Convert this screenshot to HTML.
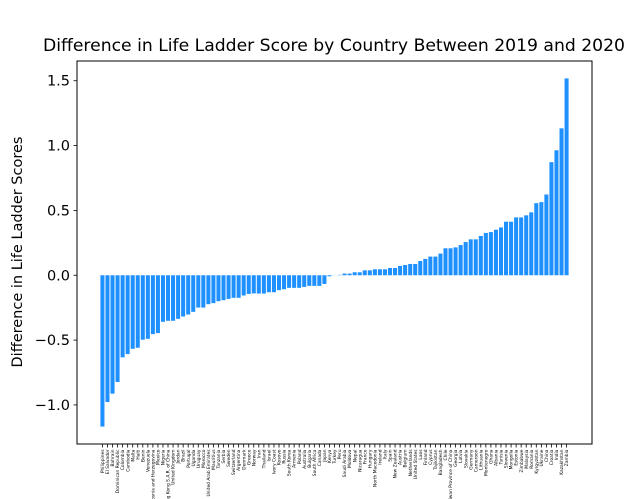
<!DOCTYPE html>
<html><head><meta charset="utf-8"><style>
body{margin:0;background:#fff;}
svg{display:block;font-family:"DejaVu Sans","Liberation Sans",sans-serif;}
</style></head><body>
<svg id="chart" width="632" height="499" viewBox="0 0 632 499" xmlns="http://www.w3.org/2000/svg">
<rect width="632" height="499" fill="#fff"/>
<text x="334" y="51" font-size="17.2" text-anchor="middle" fill="#000">Difference in Life Ladder Score by Country Between 2019 and 2020</text>
<text transform="translate(22,252) rotate(-90)" font-size="14.5" text-anchor="middle" fill="#000">Difference in Life Ladder Scores</text>
<g id="bars"></g>
<g id="yticks"></g>
<g id="xticks"></g>
<rect x="77" y="61" width="515" height="383" fill="none" stroke="#000" stroke-width="1"/>
</svg>
<script>
const countries = ["Philippines","El Salvador","Bahrain","Dominican Republic","Colombia","Cambodia","Malta","Haiti","Benin","Venezuela","Bosnia and Herzegovina","Mexico","Nigeria","Hong Kong S.A.R. of China","United Kingdom","Jordan","Brazil","Portugal","Uganda","Uruguay","Morocco","United Arab Emirates","Mauritius","Tanzania","Serbia","Sweden","Switzerland","Argentina","Denmark","Greece","Norway","Iran","Thailand","Israel","Ivory Coast","Kosovo","Russia","South Korea","Armenia","Poland","Australia","Bulgaria","South Africa","Canada","Japan","Kenya","Turkey","Peru","Saudi Arabia","Moldova","Nepal","Nicaragua","France","Hungary","North Macedonia","Ireland","Italy","Spain","New Zealand","Austria","Belgium","Netherlands","United States","Laos","Finland","Cyprus","Tajikistan","Bangladesh","Chile","Taiwan Province of China","Georgia","Latvia","Slovakia","Germany","Cameroon","Lithuania","Montenegro","Ghana","Albania","Tunisia","Slovenia","Mongolia","Estonia","Zimbabwe","Malaysia","Romania","Kyrgyzstan","Ukraine","China","Croatia","India","Kazakhstan","Zambia"];
const values = [-1.167,-0.977,-0.913,-0.823,-0.633,-0.608,-0.567,-0.559,-0.497,-0.490,-0.454,-0.446,-0.359,-0.351,-0.351,-0.336,-0.318,-0.303,-0.282,-0.249,-0.249,-0.223,-0.215,-0.200,-0.192,-0.182,-0.174,-0.174,-0.156,-0.144,-0.140,-0.141,-0.141,-0.131,-0.131,-0.115,-0.108,-0.097,-0.097,-0.097,-0.090,-0.082,-0.082,-0.082,-0.067,-0.008,0.001,0.003,0.013,0.013,0.023,0.023,0.038,0.038,0.046,0.046,0.046,0.056,0.056,0.072,0.079,0.087,0.087,0.110,0.126,0.144,0.144,0.167,0.208,0.208,0.215,0.233,0.256,0.277,0.277,0.303,0.326,0.333,0.351,0.369,0.413,0.413,0.446,0.446,0.462,0.485,0.556,0.564,0.623,0.872,0.964,1.133,1.518];
const yTickValues = [-1.0,-0.5,0.0,0.5,1.0,1.5];
const yTickLabels = ["\u22121.0","\u22120.5","0.0","0.5","1.0","1.5"];

const NS="http://www.w3.org/2000/svg";
const L=77,R=592,T=61,B=444;
const n=values.length;
const xmin=-0.4-0.05*(n-1+0.8), xmax=n-1+0.4+0.05*(n-1+0.8);
const vmin=Math.min(0,...values), vmax=Math.max(0,...values);
const ymin=vmin-0.05*(vmax-vmin), ymax=vmax+0.05*(vmax-vmin);
function xScale(v){return L+(v-xmin)/(xmax-xmin)*(R-L);}
function yScale(v){return B-(v-ymin)/(ymax-ymin)*(B-T);}
function mk(tag,attrs,parent){const e=document.createElementNS(NS,tag);for(const k in attrs)e.setAttribute(k,attrs[k]);parent.appendChild(e);return e;}

const bars=document.getElementById('bars');
values.forEach((v,i)=>{
  const x0=xScale(i-0.4),x1=xScale(i+0.4);
  const y0=yScale(Math.max(v,0)),y1=yScale(Math.min(v,0));
  const r=mk('rect',{x:x0,y:y0,width:x1-x0,height:Math.max(y1-y0,0),fill:'#1e90ff'},bars);
  
  
});

const yt=document.getElementById('yticks');
yTickValues.forEach((v,i)=>{
  const y=yScale(v);
  const l=mk('line',{x1:L-3.5,x2:L,y1:y,y2:y,stroke:'#000','stroke-width':0.8},yt);
  
  
  const t=mk('text',{x:L-7,y:y+5,'font-size':14.5,'text-anchor':'end',fill:'#000'},yt);
  t.textContent=yTickLabels[i];
  
  
});

const xt=document.getElementById('xticks');
countries.slice(0,n).forEach((c,i)=>{
  const x=xScale(i);
  const l=mk('line',{x1:x,x2:x,y1:B,y2:B+3.5,stroke:'#000','stroke-width':0.8},xt);
  
  
  const t=mk('text',{transform:'translate('+(x+1.6)+','+(B+5.5)+') rotate(-90)','font-size':4.4,'text-anchor':'end',fill:'#000'},xt);
  t.textContent=c;
  
  
});
</script>
</body></html>
